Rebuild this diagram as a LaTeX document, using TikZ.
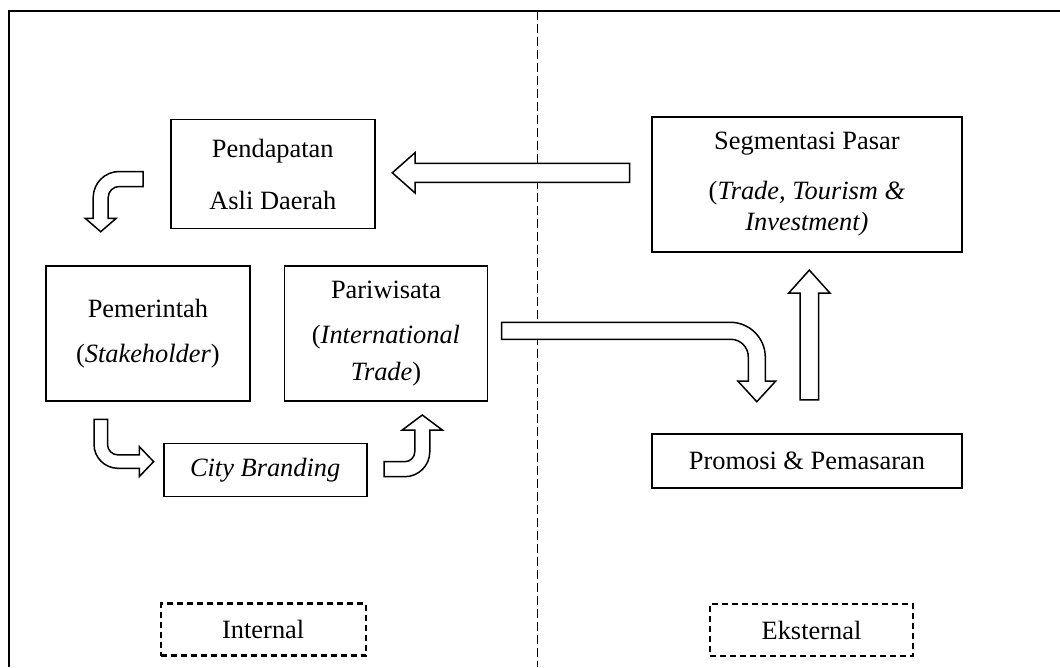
\documentclass[tikz,border=0pt]{standalone}
\usepackage{fontspec}
\setmainfont{Liberation Serif}
\usepackage{tikz}
\usetikzlibrary{calc}
\tikzset{
    plain-box/.style = {draw, line width=1.8pt, rectangle, align=center, inner sep=0pt, font=\fontsize{26.4}{30.4}\selectfont},
    side-box/.style = {plain-box, line width=2.2pt, dash pattern=on 6pt off 4pt},
    block-arrow/.style = {draw, line width=1.5pt, fill=white, line join=miter},
}

\begin{document}
\begin{tikzpicture}[x=1pt, y=-1pt]
\useasboundingbox (0,0) rectangle (1060,667);
\draw[line width=1.8pt] (9,667) |- (1060,10.7);
\draw[line width=1pt, dash pattern=on 9pt off 4pt] (537.5,10.7) -- (537.5,667);

\node[plain-box, minimum width=204pt, minimum height=109pt] (pad) at (272.8,174) {Pendapatan\\[21.6pt]Asli Daerah};
\node[plain-box, minimum width=310pt, minimum height=135pt] (seg) at (806.9,184.2) {Segmentasi Pasar\\[19.6pt](\textit{Trade, Tourism \&}\\\textit{Investment)}};
\node[plain-box, minimum width=204pt, minimum height=135pt] (gov) at (147.9,333.4) {Pemerintah\\[14.6pt](\textit{Stakeholder})};
\node[plain-box, minimum width=203pt, minimum height=135pt] (par) at (386,333.4) {Pariwisata\\[14.6pt](\textit{International}\\[6.2pt]\textit{Trade})};
\node[plain-box, minimum width=203pt, minimum height=53pt] (city) at (265.2,470) {\textit{City Branding}};
\node[plain-box, minimum width=310pt, minimum height=54pt] (promo) at (806.9,461.3) {Promosi \& Pemasaran};
\node[side-box, minimum width=205pt, minimum height=52pt] (int) at (263.2,629.5) {Internal};
\node[side-box, minimum width=203pt, minimum height=52pt] (ext) at (811.5,630.3) {Eksternal};

\draw[block-arrow] ($(seg.west)+(-21.3,-20.9)$) -- ++(-214.7,0) -- ++(0,-10.6) -- ++(-22.7,20.1) -- ++(22.7,20.1) -- ++(0,-10.6) -- ++(214.7,0) -- cycle;
\draw[block-arrow] ($(pad.west)+(-26.7,-2.5)$) [rounded corners=26pt] -- ++(-50,0) [sharp corners] -- ++(0,46.8) -- ++(-8,0) -- ++(15.5,13.4) -- ++(15.5,-13.4) -- ++(-8,0) [rounded corners=11pt] -- ++(0,-31.8) [sharp corners] -- ++(35,0) -- cycle;
\draw[block-arrow] ($(gov.south)+(-53.9,17.6)$) [rounded corners=24pt] -- ++(0,48.9) [sharp corners] -- ++(45.3,0) -- ++(0,8.3) -- ++(14.3,-15) -- ++(-14.3,-15) -- ++(0,8.3) [rounded corners=10.5pt] -- ++(-31.8,0) [sharp corners] -- ++(0,-35.5) -- cycle;
\draw[block-arrow] ($(city.east)+(16.4,-8.3)$) [rounded corners=10pt] -- ++(30.8,0) [sharp corners] -- ++(0,-31.7) -- ++(-12.5,0) -- ++(20,-15) -- ++(20,15) -- ++(-12.5,0) [rounded corners=25pt] -- ++(0,46.7) [sharp corners] -- ++(-45.8,0) -- cycle;
\draw[block-arrow] ($(par.east)+(13.1,-11.1)$) [rounded corners=35pt] -- ++(263.8,0) [sharp corners] -- ++(0,58.7) -- ++(10.5,0) -- ++(-19,20.7) -- ++(-19,-20.7) -- ++(10.5,0) [rounded corners=17.5pt] -- ++(0,-41.7) [sharp corners] -- ++(-246.8,0) -- cycle;
\draw[block-arrow] ($(promo.north)+(-6.9,-33.6)$) -- ++(0,-106.7) -- ++(-11.3,0) -- ++(20.6,-23) -- ++(20.7,23) -- ++(-11.3,0) -- ++(0,106.7) -- cycle;
\end{tikzpicture}
\end{document}
